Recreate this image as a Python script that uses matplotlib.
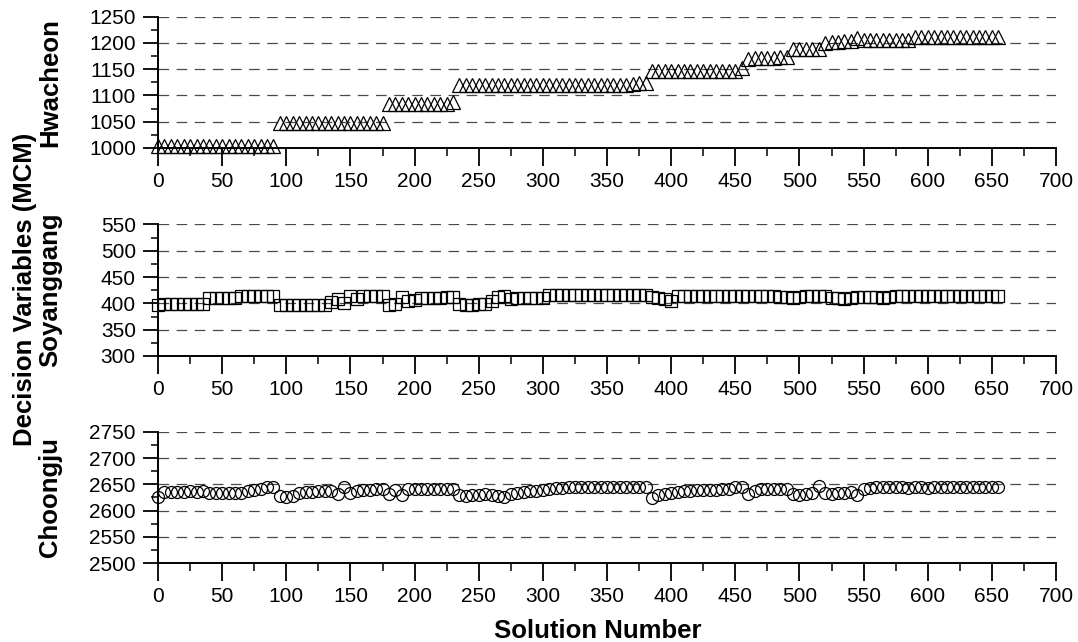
import matplotlib
matplotlib.use("Agg")
import matplotlib.pyplot as plt
from matplotlib.ticker import MultipleLocator

plt.rcParams['font.family'] = ['Liberation Sans', 'DejaVu Sans']

# Solution numbers (every 5th solution is shown)
solution = list(range(0, 660, 5))

# Hwacheon decision variable (MCM)
hwacheon = [
    1003, 1003, 1003, 1003, 1003, 1003, 1003, 1003, 1003, 1003,
    1003, 1003, 1003, 1003, 1003, 1003, 1003, 1003, 1004, 1047,
    1047, 1047, 1047, 1047, 1047, 1047, 1047, 1047, 1047, 1047,
    1047, 1047, 1047, 1047, 1047, 1047, 1084, 1084, 1084, 1084,
    1084, 1084, 1084, 1084, 1084, 1084, 1087, 1119, 1119, 1119,
    1119, 1119, 1119, 1119, 1119, 1119, 1119, 1119, 1119, 1119,
    1119, 1119, 1119, 1119, 1119, 1119, 1119, 1119, 1119, 1119,
    1119, 1119, 1119, 1119, 1122, 1123, 1124, 1147, 1147, 1147,
    1147, 1147, 1147, 1147, 1147, 1147, 1147, 1147, 1147, 1147,
    1147, 1152, 1170, 1171, 1171, 1172, 1172, 1173, 1173, 1189,
    1189, 1189, 1189, 1189, 1200, 1201, 1202, 1203, 1204, 1210,
    1205, 1205, 1205, 1205, 1205, 1205, 1205, 1205, 1211, 1211,
    1211, 1211, 1211, 1211, 1211, 1211, 1211, 1211, 1211, 1211,
    1211, 1212,
]

# Soyanggang decision variable (MCM)
soyanggang = [
    397, 399, 399, 399, 399, 399, 399, 399, 410, 410,
    410, 411, 411, 414, 414, 414, 414, 414, 414, 396,
    397, 397, 397, 397, 397, 397, 397, 403, 409, 400,
    414, 409, 414, 414, 414, 414, 397, 398, 412, 405,
    407, 410, 410, 410, 410, 413, 413, 398, 397, 397,
    398, 399, 405, 413, 414, 408, 411, 411, 411, 411,
    411, 415, 415, 415, 415, 415, 415, 415, 415, 415,
    415, 415, 415, 415, 415, 415, 415, 413, 410, 408,
    405, 414, 414, 414, 414, 414, 414, 414, 414, 414,
    414, 414, 414, 414, 414, 414, 414, 413, 413, 411,
    412, 414, 414, 414, 414, 411, 410, 408, 410, 413,
    413, 413, 413, 411, 412, 414, 414, 414, 414, 414,
    414, 414, 414, 414, 414, 414, 414, 414, 414, 414,
    414, 414,
]

# Choongju decision variable (MCM)
choongju = [
    2625, 2635, 2636, 2636, 2636, 2637, 2636, 2637, 2633, 2633,
    2633, 2634, 2634, 2634, 2637, 2640, 2641, 2645, 2645, 2627,
    2626, 2627, 2633, 2635, 2636, 2638, 2638, 2638, 2632, 2645,
    2633, 2638, 2639, 2640, 2641, 2642, 2632, 2639, 2630, 2641,
    2641, 2641, 2641, 2641, 2641, 2642, 2641, 2630, 2628, 2629,
    2630, 2631, 2630, 2627, 2626, 2632, 2634, 2636, 2637, 2638,
    2639, 2642, 2643, 2643, 2644, 2644, 2644, 2644, 2644, 2644,
    2644, 2644, 2644, 2644, 2644, 2644, 2645, 2624, 2630, 2632,
    2634, 2636, 2637, 2638, 2639, 2639, 2640, 2640, 2641, 2642,
    2644, 2645, 2631, 2638, 2641, 2641, 2641, 2641, 2641, 2631,
    2630, 2632, 2634, 2646, 2633, 2632, 2633, 2634, 2636, 2630,
    2641, 2643, 2645, 2645, 2645, 2644, 2644, 2643, 2644, 2644,
    2643, 2644, 2644, 2644, 2644, 2644, 2644, 2644, 2644, 2644,
    2644, 2644,
]

panels = [
    ("Hwacheon", hwacheon, "^", 9.5, (1000, 1250)),
    ("Soyanggang", soyanggang, "s", 8.6, (300, 550)),
    ("Choongju", choongju, "o", 8.6, (2500, 2750)),
]

fig = plt.figure(figsize=(10.78, 6.42), dpi=100)

# axes boxes in figure fractions: left, bottom, width, height
boxes = [
    [0.1466, 0.7695, 0.833, 0.2045],
    [0.1466, 0.4455, 0.833, 0.2050],
    [0.1466, 0.1226, 0.833, 0.2050],
]
label_y = [82.5, 290, 497.5]

for (name, vals, mk, ms, ylim), box, ly in zip(panels, boxes, label_y):
    ax = fig.add_axes(box)
    ax.plot(solution, vals, linestyle="none", marker=mk, markersize=ms,
            markerfacecolor="none", markeredgecolor="black",
            markeredgewidth=0.9, clip_on=False, zorder=3)
    ax.set_xlim(0, 700)
    ax.set_ylim(*ylim)
    ax.xaxis.set_major_locator(MultipleLocator(50))
    ax.xaxis.set_minor_locator(MultipleLocator(25))
    ax.yaxis.set_major_locator(MultipleLocator(50))
    ax.yaxis.set_minor_locator(MultipleLocator(25))
    ax.spines["top"].set_visible(False)
    ax.spines["right"].set_visible(False)
    ax.spines["left"].set_linewidth(1.4)
    ax.spines["bottom"].set_linewidth(1.4)
    ax.tick_params(axis="x", which="major", direction="out", length=13,
                   width=1.3, labelsize=15, pad=4)
    ax.tick_params(axis="x", which="minor", direction="out", length=6,
                   width=1.1)
    ax.tick_params(axis="y", which="major", direction="out", length=11,
                   width=1.3, labelsize=15, pad=5)
    ax.tick_params(axis="y", which="minor", direction="out", length=5,
                   width=1.1)
    ax.grid(axis="y", which="major", color="#4a4a4a", linewidth=0.9,
            linestyle=(0, (8.5, 6)))
    ax.set_axisbelow(True)
    # reservoir name, baseline-aligned beside each panel
    fig.text(57 / 1078, 1 - ly / 642, name, rotation=90,
             rotation_mode="anchor", ha="center", va="baseline",
             fontsize=18.5, fontweight="bold")

fig.text(32 / 1078, 1 - 289 / 642, "Decision Variables (MCM)", rotation=90,
         rotation_mode="anchor", ha="center", va="baseline",
         fontsize=18.5, fontweight="bold")
fig.text(598 / 1078, 1 - 638 / 642, "Solution Number", ha="center",
         va="baseline", fontsize=18.5, fontweight="bold")

fig.savefig("out.png", dpi=100)
